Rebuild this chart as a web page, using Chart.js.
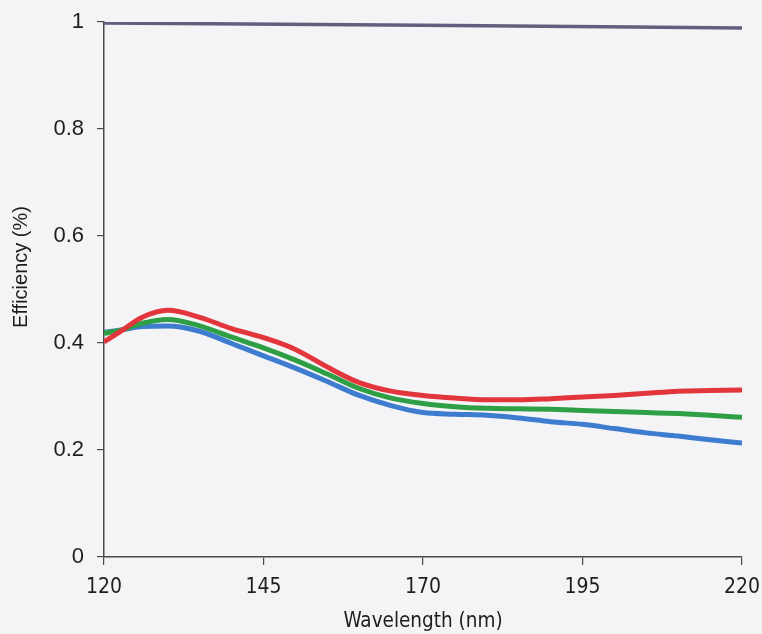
<!DOCTYPE html>
<html>
<head>
<meta charset="utf-8">
<script src="https://cdn.jsdelivr.net/npm/chart.js@4/dist/chart.umd.min.js"></script>
<style>
  html, body { margin: 0; padding: 0; background: #f4f4f6; }
  #wrap { width: 762px; height: 634px; }
</style>
</head>
<body>
<div id="wrap"><canvas id="c" width="762" height="634"></canvas></div>
<script>
// Wavelength (nm)
const wavelengths = [120, 123, 126, 130, 135, 140, 145, 150, 155, 160, 165, 170, 175, 180, 185, 190, 195, 200, 205, 210, 215, 220];
const redSeries   = [0.402, 0.425, 0.448, 0.461, 0.448, 0.427, 0.410, 0.388, 0.355, 0.326, 0.310, 0.302, 0.297, 0.294, 0.294, 0.296, 0.299, 0.302, 0.306, 0.310, 0.311, 0.312];
const greenSeries = [0.418, 0.425, 0.437, 0.444, 0.432, 0.411, 0.391, 0.368, 0.342, 0.315, 0.297, 0.287, 0.281, 0.278, 0.277, 0.276, 0.274, 0.272, 0.270, 0.268, 0.265, 0.261];
const blueSeries  = [0.420, 0.425, 0.431, 0.432, 0.422, 0.399, 0.376, 0.353, 0.328, 0.302, 0.283, 0.270, 0.267, 0.265, 0.260, 0.253, 0.248, 0.240, 0.232, 0.226, 0.219, 0.213];
const topWavelengths = [120, 170, 220];
const topSeries      = [0.998, 0.994, 0.989];
const xTicks = [120, 145, 170, 195, 220];
const yTicks = [0, 0.2, 0.4, 0.6, 0.8, 1];
const xTitle = 'Wavelength (nm)';
const yTitle = 'Efficiency (%)';

const pts = (xs, ys) => xs.map((x, i) => ({ x: x, y: ys[i] }));

const bgPlugin = {
  id: 'bg',
  beforeDraw(chart) {
    const ctx = chart.ctx;
    ctx.save();
    ctx.fillStyle = '#f4f4f6';
    ctx.fillRect(0, 0, chart.width, chart.height);
    ctx.restore();
  }
};

const yTitlePlugin = {
  id: 'ytitle',
  afterDraw(chart) {
    const ctx = chart.ctx;
    ctx.save();
    ctx.translate(21, 267);
    ctx.rotate(-Math.PI / 2);
    ctx.font = '20px "Liberation Sans", Arial, sans-serif';
    ctx.fillStyle = '#1e1e1e';
    ctx.textAlign = 'center';
    ctx.textBaseline = 'middle';
    ctx.fillText(yTitle, 0, 0);
    ctx.restore();
  }
};

const lineDs = (label, data, color, width) => ({
  label: label,
  data: data,
  borderColor: color,
  backgroundColor: color,
  borderWidth: width,
  pointRadius: 0,
  fill: false,
  cubicInterpolationMode: 'monotone',
  borderCapStyle: 'butt'
});

new Chart(document.getElementById('c'), {
  type: 'line',
  data: {
    datasets: [
      lineDs('Top', pts(topWavelengths, topSeries), '#625f7e', 3.5),
      lineDs('Red', pts(wavelengths, redSeries), '#e2363c', 5),
      lineDs('Green', pts(wavelengths, greenSeries), '#2f9f45', 5),
      lineDs('Blue', pts(wavelengths, blueSeries), '#3d7ccf', 5)
    ]
  },
  options: {
    responsive: false,
    animation: false,
    layout: { padding: { left: 0, right: 20, top: 22, bottom: 0 } },
    plugins: { legend: { display: false }, tooltip: { enabled: false } },
    scales: {
      x: {
        type: 'linear',
        min: 120, max: 220,
        afterBuildTicks(axis) { axis.ticks = xTicks.map(v => ({ value: v })); },
        afterFit(axis) { axis.height = 77; axis.paddingLeft = 0; axis.paddingRight = 0; },
        border: { display: true, color: '#4a4a4a', width: 1.5 },
        grid: { display: true, drawOnChartArea: false, drawTicks: true, tickLength: 8, color: '#4a4a4a', lineWidth: 1.2 },
        ticks: {
          padding: 10,
          color: '#1e1e1e',
          font: { family: '"DejaVu Sans Condensed", "DejaVu Sans", sans-serif', size: 21 },
          maxRotation: 0,
          callback: v => String(v)
        },
        title: {
          display: true,
          text: xTitle,
          color: '#1e1e1e',
          font: { family: '"DejaVu Sans Condensed", "DejaVu Sans", sans-serif', size: 20.5 },
          padding: { top: 0, bottom: 0 }
        }
      },
      y: {
        type: 'linear',
        min: 0, max: 1,
        afterBuildTicks(axis) { axis.ticks = yTicks.map(v => ({ value: v })); },
        afterFit(axis) { axis.width = 104; axis.paddingTop = 0; axis.paddingBottom = 0; },
        border: { display: true, color: '#4a4a4a', width: 1.5 },
        grid: { display: true, drawOnChartArea: false, drawTicks: true, tickLength: 7, color: '#4a4a4a', lineWidth: 1.2 },
        ticks: {
          padding: 13,
          color: '#1e1e1e',
          font: { family: '"Liberation Sans", Arial, sans-serif', size: 22 },
          callback: v => String(Math.round(v * 10) / 10)
        }
      }
    }
  },
  plugins: [bgPlugin, yTitlePlugin]
});
</script>
</body>
</html>
